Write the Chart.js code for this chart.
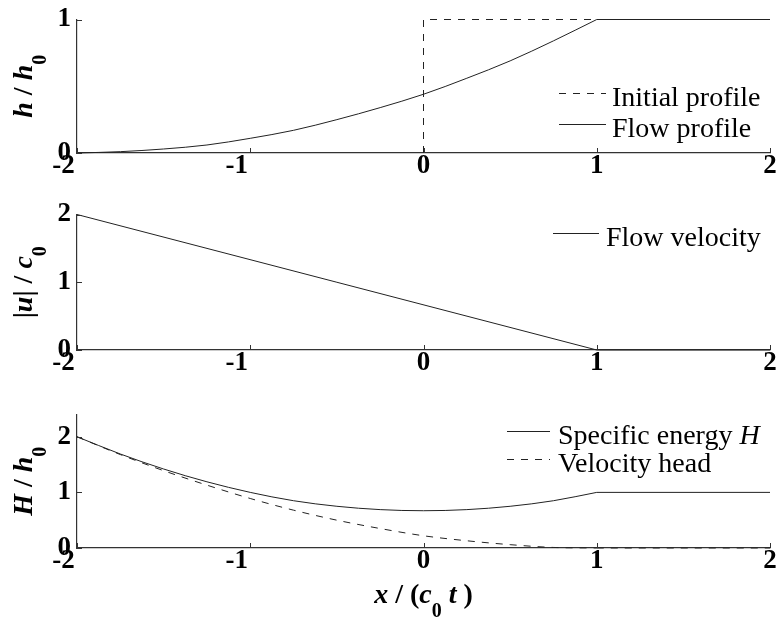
<!DOCTYPE html>
<html>
<head>
<meta charset="utf-8">
<script src="https://cdn.jsdelivr.net/npm/chart.js@4.4.1/dist/chart.umd.min.js"></script>
<style>
  html, body { margin: 0; padding: 0; background: #fff; }
  #wrap { position: relative; width: 781px; height: 621px; }
  canvas { position: absolute; left: 0; }
</style>
</head>
<body>
<div id="wrap">
  <canvas id="c1" width="781" height="195" style="top:0"></canvas>
  <canvas id="c2" width="781" height="200" style="top:195px"></canvas>
  <canvas id="c3" width="781" height="226" style="top:395px"></canvas>
</div>
<script>
// x / (c0 t) positions of the curved part
const xi = [-2, -1.75, -1.5, -1.25, -1, -0.75, -0.5, -0.25, 0, 0.25, 0.5, 0.75, 1];
// flat part beyond x = 1
const tailX = [1, 2];

// top panel: depth
const initX = [0, 0, 2];
const initH = [0, 1, 1];
const flowH = [0, 0.01, 0.03, 0.06, 0.11, 0.17, 0.25, 0.34, 0.44, 0.56, 0.69, 0.84, 1];
const flowTail = [1, 1];

// middle panel: velocity
const velX = [-2, 1, 2];
const velU = [2, 0, 0];

// bottom panel: energy
const energyH = [2, 1.69, 1.42, 1.19, 1.0, 0.85, 0.75, 0.69, 0.67, 0.69, 0.75, 0.85, 1];
const energyTail = [1, 1];
const velHead = [2, 1.68, 1.39, 1.13, 0.89, 0.68, 0.5, 0.35, 0.22, 0.13, 0.06, 0.01, 0];
const headTail = [0, 0];

const xTicks = [-2, -1, 0, 1, 2];
const yTicks = [0, 1, 2];

const FONT = '"Liberation Serif", "Times New Roman", serif';
const LINE = '#222';
const AXIS = '#333';
const DASH = [7, 7];

function pts(xs, ys) {
    return xs.map((x, i) => ({ x: x, y: ys[i] }));
}

// draw a run of text pieces (italic / subscript) one after another
function drawRich(ctx, parts, x, y, o) {
    const size = o.size, weight = o.weight || 'bold';
    const subSize = 20, subShift = 14;
    const fontOf = p => (p.it ? 'italic ' : '') + weight + ' ' + (p.sub ? subSize : size) + 'px ' + FONT;
    let w = 0;
    parts.forEach(p => { ctx.font = fontOf(p); w += ctx.measureText(p.t).width; });
    ctx.save();
    ctx.translate(x, y);
    if (o.rotate) ctx.rotate(-Math.PI / 2);
    ctx.fillStyle = '#000';
    ctx.textBaseline = 'alphabetic';
    ctx.textAlign = 'left';
    let cx = o.align === 'left' ? 0 : -w / 2;
    parts.forEach(p => {
        ctx.font = fontOf(p);
        ctx.fillText(p.t, cx, p.sub ? subShift : 0);
        cx += ctx.measureText(p.t).width;
    });
    ctx.restore();
}

// inward tick marks, titles and the legend box
const decor = {
    id: 'decor',
    afterDraw(chart, args, opts) {
        const ctx = chart.ctx;
        const a = chart.chartArea;
        const xs = chart.scales.x, ys = chart.scales.y;
        ctx.save();
        ctx.strokeStyle = AXIS;
        ctx.lineWidth = 1;
        ctx.beginPath();
        xTicks.forEach(v => {
            const px = Math.round(xs.getPixelForValue(v)) + 0.5;
            ctx.moveTo(px, a.bottom);
            ctx.lineTo(px, a.bottom - 5);
        });
        ys.ticks.forEach(t => {
            const py = Math.round(ys.getPixelForValue(t.value)) + 0.5;
            ctx.moveTo(a.left, py);
            ctx.lineTo(a.left + 5, py);
        });
        ctx.stroke();
        ctx.restore();

        drawRich(ctx, opts.yTitle, 32, (a.top + a.bottom) / 2, { size: 28, rotate: true });
        if (opts.xTitle) {
            drawRich(ctx, opts.xTitle, (a.left + a.right) / 2, opts.xTitleY, { size: 28 });
        }

        const lg = opts.legend;
        lg.rows.forEach(r => {
            ctx.save();
            ctx.strokeStyle = LINE;
            ctx.lineWidth = 1;
            ctx.setLineDash(r.dash ? DASH : []);
            ctx.beginPath();
            ctx.moveTo(lg.x0, r.y - 12.5);
            ctx.lineTo(lg.x1, r.y - 12.5);
            ctx.stroke();
            ctx.restore();
            drawRich(ctx, r.label, lg.tx, r.y, { size: 28, weight: 'normal', align: 'left' });
        });
    }
};

function scales(yMax, xHeight) {
    return {
        x: {
            type: 'linear', min: -2, max: 2,
            grid: { display: false, drawTicks: false },
            border: { display: true, color: AXIS, width: 1.2 },
            ticks: {
                stepSize: 1, padding: 0, color: '#000',
                font: { family: FONT, size: 27, weight: 'bold', lineHeight: 1 },
                // negative labels sit with their right edge on the tick
                callback: v => v < 0 ? v + '\u2002\u2002' : String(v)
            },
            afterBuildTicks: s => { s.ticks = xTicks.map(v => ({ value: v })); },
            afterFit: s => { s.height = xHeight; }
        },
        y: {
            min: 0, max: yMax,
            grid: { display: false, drawTicks: false },
            border: { display: true, color: AXIS, width: 1.2 },
            ticks: {
                stepSize: 1, padding: 6, color: '#000',
                font: { family: FONT, size: 27, weight: 'bold', lineHeight: 1 }
            },
            afterBuildTicks: s => { s.ticks = yTicks.filter(v => v <= yMax).map(v => ({ value: v })); },
            afterFit: s => { s.width = 77; }
        }
    };
}

function line(data, dashed, smooth) {
    return {
        data: data,
        borderColor: LINE,
        borderWidth: 1,
        borderDash: dashed ? DASH : [],
        pointRadius: 0,
        tension: 0,
        cubicInterpolationMode: smooth ? 'monotone' : 'default',
        fill: false,
        clip: false
    };
}

function base(top, yMax, xHeight, decorOpts, datasets) {
    return {
        type: 'line',
        data: { datasets: datasets },
        options: {
            responsive: false,
            animation: false,
            devicePixelRatio: 1,
            layout: { padding: { left: 0, right: 11, top: top, bottom: 0 } },
            scales: scales(yMax, xHeight),
            plugins: { legend: { display: false }, tooltip: { enabled: false }, decor: decorOpts }
        },
        plugins: [decor]
    };
}

new Chart(document.getElementById('c1'), base(18, 1, 42, {
    yTitle: [{ t: 'h', it: true }, { t: ' / ' }, { t: 'h', it: true }, { t: '0', sub: true }],
    legend: {
        x0: 559, x1: 606, tx: 612,
        rows: [
            { y: 106, dash: true, label: [{ t: 'Initial profile' }] },
            { y: 137, dash: false, label: [{ t: 'Flow profile' }] }
        ]
    }
}, [
    line(pts(initX, initH), true, false),
    line(pts(xi, flowH), false, true),
    line(pts(tailX, flowTail), false, false)
]));

new Chart(document.getElementById('c2'), base(14, 2, 45, {
    yTitle: [{ t: '|' }, { t: 'u', it: true }, { t: '|' }, { t: ' / ' }, { t: 'c', it: true }, { t: '0', sub: true }],
    legend: {
        x0: 553, x1: 599, tx: 606,
        rows: [{ y: 246 - 195, dash: false, label: [{ t: 'Flow velocity' }] }]
    }
}, [line(pts(velX, velU), false, false)]));

new Chart(document.getElementById('c3'), base(11, 2.4, 73, {
    yTitle: [{ t: 'H', it: true }, { t: ' / ' }, { t: 'h', it: true }, { t: '0', sub: true }],
    xTitle: [{ t: 'x', it: true }, { t: ' / (' }, { t: 'c', it: true }, { t: '0', sub: true }, { t: ' ' }, { t: 't', it: true }, { t: ' )' }],
    xTitleY: 603 - 395,
    legend: {
        x0: 507, x1: 550, tx: 558,
        rows: [
            { y: 444 - 395, dash: false, label: [{ t: 'Specific energy ' }, { t: 'H', it: true }] },
            { y: 472 - 395, dash: true, label: [{ t: 'Velocity head' }] }
        ]
    }
}, [
    line(pts(xi, energyH), false, true),
    line(pts(tailX, energyTail), false, false),
    line(pts(xi, velHead), true, true),
    line(pts(tailX, headTail), true, false)
]));
</script>
</body>
</html>
